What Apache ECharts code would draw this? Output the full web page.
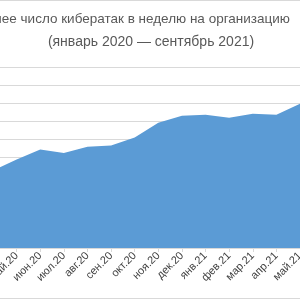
<!DOCTYPE html>
<html>
<head>
<meta charset="utf-8">
<script src="https://cdn.jsdelivr.net/npm/echarts@6/dist/echarts.min.js"></script>
<style>html,body{margin:0;padding:0;background:#fff;overflow:hidden;width:300px;height:300px;position:relative;}#c{position:absolute;left:-7px;top:0;width:307px;height:300px;}</style>
</head>
<body>
<div id="c"></div>
<script>
var months = ["апр.20","май.20","июн.20","июл.20","авг.20","сен.20","окт.20","ноя.20","дек.20","янв.21","фев.21","мар.21","апр.21","май.21"];
var attacks = [428, 489, 544, 525, 560, 566, 610, 692, 731, 736, 720, 742, 736, 797];
var titleLine1 = "Среднее число кибератак в неделю на организацию";
var titleLine2 = "(январь 2020 — сентябрь 2021)";

var chart = echarts.init(document.getElementById('c'), null, {renderer: 'canvas'});
chart.setOption({
  animation: false,
  backgroundColor: '#ffffff',
  grid: {left: 0, right: 0, top: 67, bottom: 52, containLabel: false, outerBoundsMode: 'none'},
  xAxis: {
    type: 'category',
    data: months,
    boundaryGap: false,
    axisLine: {show: true, lineStyle: {color: '#d9d9d9'}},
    axisTick: {show: true, length: 4, lineStyle: {color: '#d9d9d9'}},
    axisLabel: {rotate: 45, interval: 0, margin: 6, fontSize: 11, color: '#404040', fontFamily: 'Liberation Sans'}
  },
  yAxis: {
    type: 'value', min: 0, max: 1000, interval: 100,
    axisLabel: {show: false}, axisLine: {show: false}, axisTick: {show: false},
    splitLine: {lineStyle: {color: '#d9d9d9', width: 1}}
  },
  series: [{
    type: 'line', data: attacks, symbol: 'none',
    lineStyle: {width: 0},
    areaStyle: {color: '#5b9bd5', opacity: 1}
  }],
  graphic: [
    {type: 'text', x: -31, y: 19, style: {text: titleLine1, font: '13.5px "Liberation Sans"', fill: '#595959', textVerticalAlign: 'middle', textAlign: 'left'}},
    {type: 'text', x: 158, y: 42, style: {text: titleLine2, font: '14px "Liberation Sans"', fill: '#595959', textVerticalAlign: 'middle', textAlign: 'center'}},
    {type: 'line', shape: {x1: 7, y1: 0.5, x2: 307, y2: 0.5}, style: {stroke: '#d9d9d9', lineWidth: 1}},
    {type: 'line', shape: {x1: 7, y1: 298.5, x2: 307, y2: 298.5}, style: {stroke: '#d9d9d9', lineWidth: 1}}
  ]
});
</script>
</body>
</html>
